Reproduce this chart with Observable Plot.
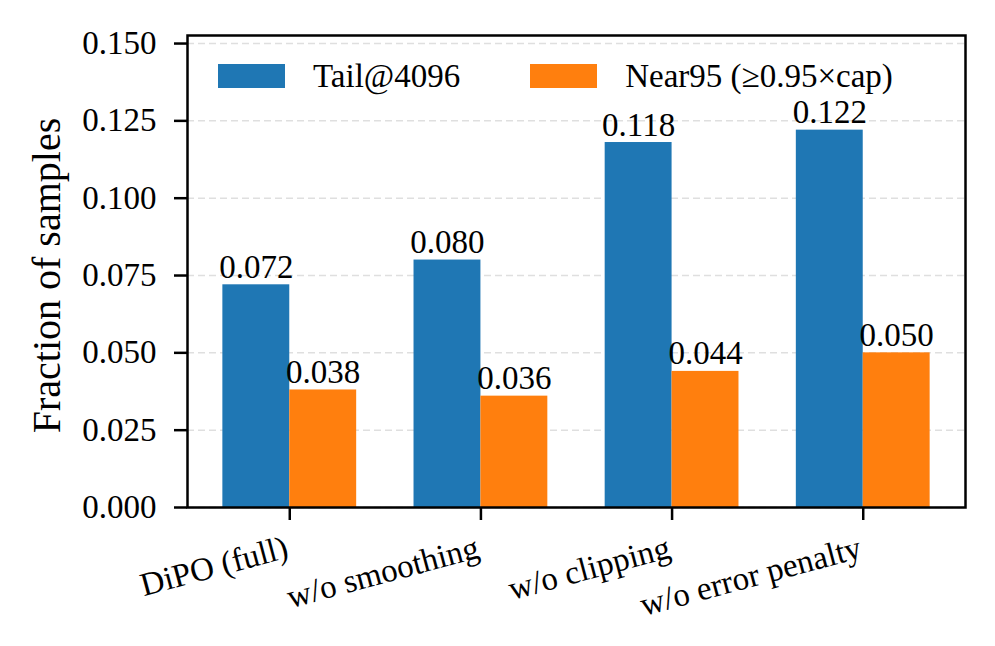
<!DOCTYPE html>
<html>
<head>
<meta charset="utf-8">
<script src="https://cdn.jsdelivr.net/npm/d3@7"></script>
<script src="https://cdn.jsdelivr.net/npm/@observablehq/plot@0.6"></script>
<style>
  body { margin: 0; background: #fff; }
  #wrap { position: relative; width: 995px; height: 646px; font-family: 'Liberation Serif', 'DejaVu Serif', serif; }
  .legend { position: absolute; top: 57px; left: 218px; display: flex; align-items: center; font-size: 33px; line-height: 38px; color: #000; font-family: 'Liberation Serif', serif; }
  .legend .sw { width: 67px; height: 24px; display: inline-block; margin-right: 28px; }
  .legend .item { display: flex; align-items: center; margin-right: 70px; }
</style>
</head>
<body>
<div id="wrap"></div>
<script>
const categories = ["DiPO (full)", "w/o smoothing", "w/o clipping", "w/o error penalty"];
const seriesNames = ["Tail@4096", "Near95 (\u22650.95\u00d7cap)"];
const tail = [0.072, 0.080, 0.118, 0.122];
const near95 = [0.038, 0.036, 0.044, 0.050];
const yTicks = [0, 0.025, 0.05, 0.075, 0.1, 0.125, 0.15];
const colors = ["#1f77b4", "#ff7f0e"];
const FONT = "'Liberation Serif', serif";

const barW = 0.35;
const rows = [];
categories.forEach((c, i) => {
  rows.push({i, cat: c, series: seriesNames[0], value: tail[i], x1: i - barW, x2: i, color: colors[0]});
  rows.push({i, cat: c, series: seriesNames[1], value: near95[i], x1: i, x2: i + barW, color: colors[1]});
});
const catRows = categories.map((c, i) => ({i, cat: c}));

const chart = Plot.plot({
  width: 995,
  height: 646,
  marginLeft: 187,
  marginRight: 30,
  marginTop: 35,
  marginBottom: 139,
  style: {fontFamily: FONT, fontSize: "33px", background: "#fff", color: "#000"},
  x: {domain: [-0.535, 3.535]},
  y: {domain: [0, 0.1526]},
  marks: [
    Plot.ruleY(yTicks, {stroke: "#b0b0b0", strokeOpacity: 0.4, strokeWidth: 1.5, strokeDasharray: "7,4"}),
    Plot.rect(rows, {x1: "x1", x2: "x2", y1: 0, y2: "value", fill: "color"}),
    Plot.text(rows, {x: d => (d.x1 + d.x2) / 2, y: "value", text: d => d3.format(".3f")(d.value), dy: -7, lineAnchor: "bottom", fontSize: 33, fontFamily: FONT, fill: "#000"}),
    Plot.axisY({ticks: yTicks, tickFormat: d3.format(".3f"), tickSize: 13, tickPadding: 18, strokeWidth: 2.5, label: null, fontSize: 33, fontFamily: FONT}),
    Plot.axisX({ticks: [0, 1, 2, 3], tickSize: 13, strokeWidth: 2.5, text: null, label: null}),
    Plot.text(catRows, {x: "i", frameAnchor: "bottom", text: "cat", rotate: -15, textAnchor: "end", lineAnchor: "top", dy: 27, dx: -6, fontSize: 33, fontFamily: FONT, fill: "#000"}),
    Plot.text(["Fraction of samples"], {frameAnchor: "left", textAnchor: "middle", dx: -140, dy: 4, rotate: -90, fontSize: 40, fontFamily: FONT, fill: "#000"}),
    Plot.frame({stroke: "#000", strokeWidth: 2.5})
  ]
});

const wrap = document.getElementById("wrap");
chart.style.position = "absolute";
chart.style.left = "0";
chart.style.top = "0";
wrap.appendChild(chart);
const legend = document.createElement("div");
legend.className = "legend";
seriesNames.forEach((s, k) => {
  const item = document.createElement("div");
  item.className = "item";
  const sw = document.createElement("span");
  sw.className = "sw";
  sw.style.background = colors[k];
  const t = document.createElement("span");
  t.textContent = s;
  item.appendChild(sw);
  item.appendChild(t);
  legend.appendChild(item);
});
wrap.appendChild(legend);
</script>
</body>
</html>
